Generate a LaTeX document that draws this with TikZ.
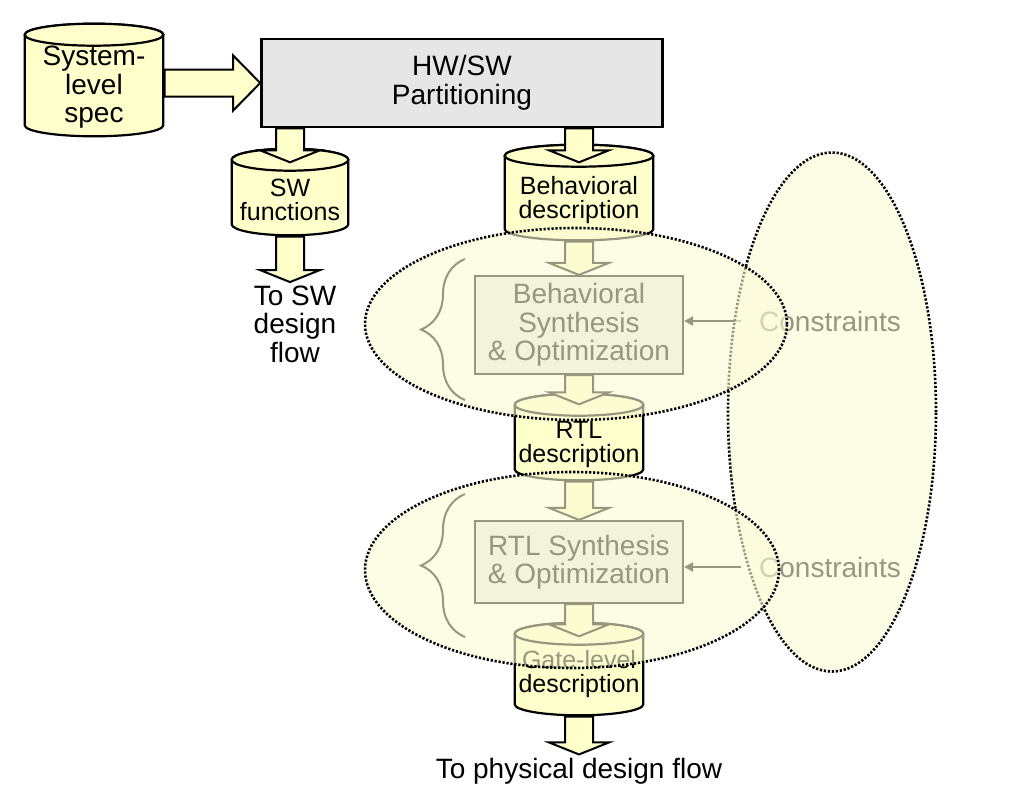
\documentclass[tikz,border=0pt]{standalone}
\usepackage{fontspec}
\setmainfont{Liberation Sans}
\usetikzlibrary{arrows.meta,calc,shapes.geometric,decorations.pathreplacing}

\definecolor{dbfill}{RGB}{255,255,204}
\definecolor{partfill}{RGB}{230,230,230}
\definecolor{cloudfill}{RGB}{252,250,212}

\newcommand{\bigfont}{\fontsize{28}{28.5}\selectfont}
\newcommand{\dbfont}{\fontsize{25}{24}\selectfont}
% invisible strut: pushes the text of a cylinder below its lid
\newcommand{\dblid}[1][33pt]{\rule{0pt}{#1}}

\tikzset{
  dbline/.style={draw=black, line width=2.2pt, fill=dbfill},
  fatdown/.style={fill=dbfill, draw=black, line width=2pt,
    to path={let \p1=(\tikztostart), \p2=(\tikztotarget) in
      (\x1-14pt,\y1) -- (\x1-14pt,\y2+12pt) -- (\x1-30pt,\y2+12pt) -- (\x1,\y2)
      -- (\x1+30pt,\y2+12pt) -- (\x1+14pt,\y2+12pt) -- (\x1+14pt,\y1) -- cycle}},
  fatright/.style={fill=dbfill, draw=black, line width=2pt,
    to path={let \p1=(\tikztostart), \p2=(\tikztotarget) in
      (\x1,\y1+13.5pt) -- (\x2-27pt,\y1+13.5pt) -- (\x2-27pt,\y1+27.5pt) -- (\x2,\y1)
      -- (\x2-27pt,\y1-27.5pt) -- (\x2-27pt,\y1-13.5pt) -- (\x1,\y1-13.5pt) -- cycle}}
}

\begin{document}
\begin{tikzpicture}[
  x=1pt, y=-1pt,
  every node/.style={align=center, font=\bigfont},
  dbstore/.style n args={2}{rectangle, inner sep=0pt, font=\dbfont, minimum width=#1, minimum height=#2, fill=white,
    path picture={
      \filldraw[dbline] let \p1=(path picture bounding box.south west), \p2=(path picture bounding box.north east),
        \n1={(\x2-\x1)/2-1.2pt} in
        (\x1+1.2pt,\y2-12.2pt) -- (\x1+1.2pt,\y1+12.2pt)
        arc[start angle=180, end angle=360, x radius=\n1, y radius=11pt]
        -- (\x2-1.2pt,\y2-12.2pt)
        arc[start angle=0, end angle=180, x radius=\n1, y radius=11pt] -- cycle;
      \filldraw[dbline] let \p1=(path picture bounding box.south west), \p2=(path picture bounding box.north east),
        \n1={(\x2-\x1)/2-1.2pt} in
        ({(\x1+\x2)/2},\y2-12.2pt) ellipse[x radius=\n1, y radius=11pt];
    }},
  procbox/.style={rectangle, draw=black, line width=2.2pt, fill=partfill},
  cloud/.style={ellipse, draw=black, line width=2.6pt, dash pattern=on 2.2pt off 1.8pt, fill=cloudfill, fill opacity=0.6},
  conarrow/.style={-{Triangle[length=9pt, width=9pt]}, line width=2pt},
  curly/.style={decorate, decoration={brace, amplitude=44pt}, line width=2pt}
]
\useasboundingbox (0,0) rectangle (1020,788);

% nodes
\node[dbstore={141pt}{115pt}, font=\bigfont] (sys) at (94,80) {\dblid[34pt]System-\\level\\spec};
\node[procbox, line width=2.6pt, minimum width=401pt, minimum height=88pt] (part) at (462,83) {HW/SW\\Partitioning};
\node[dbstore={119pt}{89pt}] (swfn) at (290,192) {\dblid SW\\functions};
\node (swflow) at (295,324) {To SW\\design\\flow};
\node[dbstore={151pt}{98pt}] (behav) at (579,192.5) {\dblid Behavioral\\description};
\node[procbox, minimum width=208pt, minimum height=98pt] (bsyn) at (579,325) {Behavioral\\Synthesis\\\& Optimization};
\node[dbstore={131pt}{89pt}] (rtl) at (579,437) {\dblid RTL\\description};
\node[procbox, minimum width=208pt, minimum height=82pt] (rsyn) at (579,562) {RTL Synthesis\\\& Optimization};
\node[dbstore={131pt}{95pt}] (gate) at (579,669) {\dblid[28pt]Gate-level\\description};
\node (phys) at (579,771) {To physical design flow};
\node[inner xsep=18pt] (con1) at (830,321) {Constraints};
\node[inner xsep=18pt] (con2) at (830,567) {Constraints};

% connectors
\draw[fatright] (sys.east |- part.west) to (part.west);
\draw[fatdown] (part.south -| swfn.north) to ([yshift=-15pt]swfn.north);
\draw[fatdown] (swfn.south) to (swflow.north);
\draw[fatdown] (part.south -| behav.north) to ([yshift=-19pt]behav.north);
\draw[fatdown] (behav.south) to (bsyn.north);
\draw[fatdown] (bsyn.south) to ([yshift=-12pt]rtl.north);
\draw[fatdown] (rtl.south) to (rsyn.north);
\draw[fatdown] (rsyn.south) to ([yshift=-15pt]gate.north);
\draw[fatdown] (gate.south) to (phys.north);
\draw[conarrow] (con1.west) -- (con1.west -| bsyn.east);
\draw[conarrow] (con2.west) -- (con2.west -| rsyn.east);
\draw[curly] (465,400) -- (465,259);
\draw[curly] (465,637) -- (465,494);

% overlays
\node[cloud, minimum width=208pt, minimum height=519pt] (conspace) at (832,412) {};
\node[cloud, minimum width=422pt, minimum height=192pt] (behavstep) at (576,324) {};
\node[cloud, minimum width=414pt, minimum height=196pt] (rtlstep) at (572,570) {};
\end{tikzpicture}
\end{document}
